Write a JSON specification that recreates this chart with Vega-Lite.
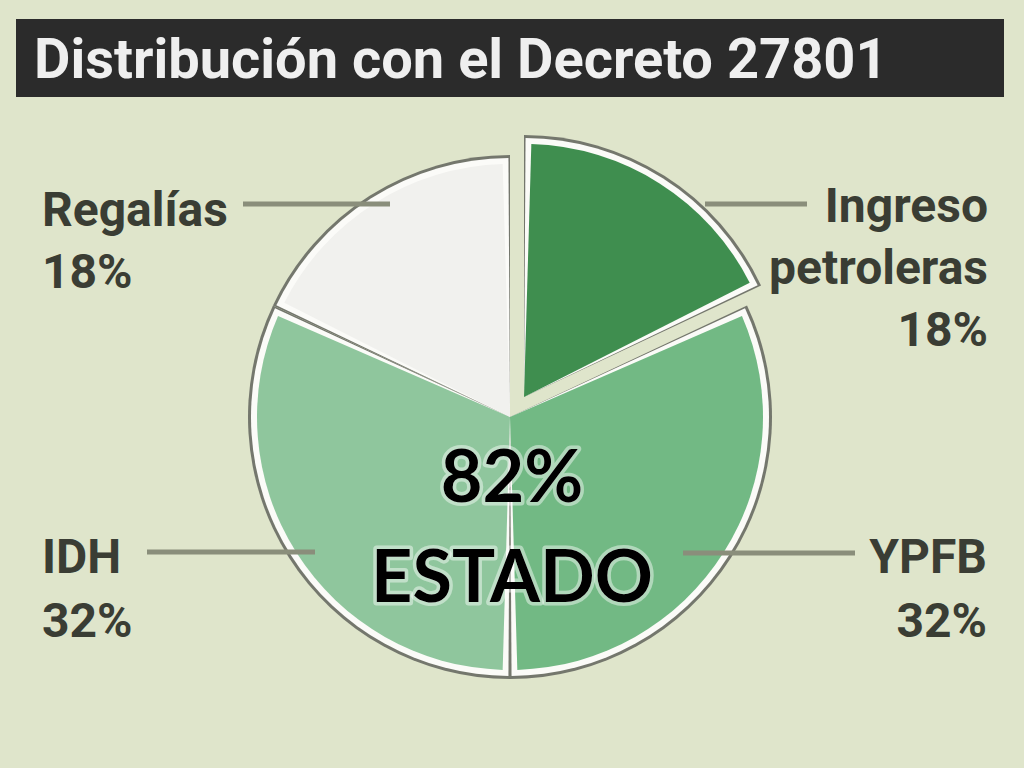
{
  "$schema": "https://vega.github.io/schema/vega-lite/v6.json",
  "width": 1024,
  "height": 768,
  "autosize": {"type": "fit", "contains": "padding"},
  "padding": 0,
  "background": "#dfe5cb",
  "config": {"view": {"stroke": null}},
  "data": {"values": [
    {"fuente": "Ingreso petroleras", "pct": 18, "orden": 1},
    {"fuente": "YPFB", "pct": 32, "orden": 2},
    {"fuente": "IDH", "pct": 32, "orden": 3},
    {"fuente": "Regalías", "pct": 18, "orden": 4}
  ]},
  "layer": [
    {
      "data": {"values": [{"titulo": "Distribución con el Decreto 27801"}]},
      "mark": {"type": "rect", "color": "#2b2b2b"},
      "encoding": {
        "x": {"datum": 16, "type": "quantitative", "scale": {"domain": [0, 1024]}, "axis": null},
        "x2": {"datum": 1004},
        "y": {"datum": 19, "type": "quantitative", "scale": {"domain": [0, 768], "reverse": true}, "axis": null},
        "y2": {"datum": 97}
      }
    },
    {
      "data": {"values": [{"titulo": "Distribución con el Decreto 27801"}]},
      "mark": {"type": "text", "align": "left", "baseline": "alphabetic", "font": "Roboto", "fontWeight": "bold", "fontSize": 56, "color": "#efefef"},
      "encoding": {
        "x": {"datum": 34, "type": "quantitative", "scale": {"domain": [0, 1024]}, "axis": null},
        "y": {"datum": 78, "type": "quantitative", "scale": {"domain": [0, 768], "reverse": true}, "axis": null},
        "text": {"field": "titulo", "type": "nominal"}
      }
    },
    {
      "mark": {"type": "arc", "outerRadius": 262, "fill": "#74776d"},
      "encoding": {
        "theta": {"field": "pct", "type": "quantitative", "stack": true},
        "order": {"field": "orden", "type": "quantitative"},
        "detail": {"field": "fuente", "type": "nominal"},
        "x": {"datum": 510, "type": "quantitative", "scale": {"domain": [0, 1024]}, "axis": null},
        "y": {"datum": 417, "type": "quantitative", "scale": {"domain": [0, 768], "reverse": true}, "axis": null},
        "opacity": {"condition": {"test": "datum.fuente === 'Ingreso petroleras'", "value": 0}, "value": 1}
      }
    },
    {
      "mark": {"type": "arc", "outerRadius": 259, "padAngle": 0.012, "fill": "#fbfbf8"},
      "encoding": {
        "theta": {"field": "pct", "type": "quantitative", "stack": true},
        "order": {"field": "orden", "type": "quantitative"},
        "detail": {"field": "fuente", "type": "nominal"},
        "x": {"datum": 510, "type": "quantitative", "scale": {"domain": [0, 1024]}, "axis": null},
        "y": {"datum": 417, "type": "quantitative", "scale": {"domain": [0, 768], "reverse": true}, "axis": null},
        "opacity": {"condition": {"test": "datum.fuente === 'Ingreso petroleras'", "value": 0}, "value": 1}
      }
    },
    {
      "mark": {"type": "arc", "outerRadius": 253, "padAngle": 0.058},
      "encoding": {
        "theta": {"field": "pct", "type": "quantitative", "stack": true},
        "order": {"field": "orden", "type": "quantitative"},
        "color": {"field": "fuente", "type": "nominal", "legend": null,
          "scale": {"domain": ["Ingreso petroleras", "YPFB", "IDH", "Regalías"], "range": ["#3f8e4f", "#72b984", "#8fc69d", "#f1f1ee"]}},
        "x": {"datum": 510, "type": "quantitative", "scale": {"domain": [0, 1024]}, "axis": null},
        "y": {"datum": 417, "type": "quantitative", "scale": {"domain": [0, 768], "reverse": true}, "axis": null},
        "opacity": {"condition": {"test": "datum.fuente === 'Ingreso petroleras'", "value": 0}, "value": 1}
      }
    },
    {
      "mark": {"type": "arc", "outerRadius": 262, "fill": "#74776d", "xOffset": 14, "yOffset": -20},
      "encoding": {
        "theta": {"field": "pct", "type": "quantitative", "stack": true},
        "order": {"field": "orden", "type": "quantitative"},
        "detail": {"field": "fuente", "type": "nominal"},
        "x": {"datum": 510, "type": "quantitative", "scale": {"domain": [0, 1024]}, "axis": null},
        "y": {"datum": 417, "type": "quantitative", "scale": {"domain": [0, 768], "reverse": true}, "axis": null},
        "opacity": {"condition": {"test": "datum.fuente === 'Ingreso petroleras'", "value": 1}, "value": 0}
      }
    },
    {
      "mark": {"type": "arc", "outerRadius": 259, "padAngle": 0.012, "fill": "#fbfbf8", "xOffset": 14, "yOffset": -20},
      "encoding": {
        "theta": {"field": "pct", "type": "quantitative", "stack": true},
        "order": {"field": "orden", "type": "quantitative"},
        "detail": {"field": "fuente", "type": "nominal"},
        "x": {"datum": 510, "type": "quantitative", "scale": {"domain": [0, 1024]}, "axis": null},
        "y": {"datum": 417, "type": "quantitative", "scale": {"domain": [0, 768], "reverse": true}, "axis": null},
        "opacity": {"condition": {"test": "datum.fuente === 'Ingreso petroleras'", "value": 1}, "value": 0}
      }
    },
    {
      "mark": {"type": "arc", "outerRadius": 253, "padAngle": 0.058, "xOffset": 14, "yOffset": -20},
      "encoding": {
        "theta": {"field": "pct", "type": "quantitative", "stack": true},
        "order": {"field": "orden", "type": "quantitative"},
        "color": {"field": "fuente", "type": "nominal", "legend": null,
          "scale": {"domain": ["Ingreso petroleras", "YPFB", "IDH", "Regalías"], "range": ["#3f8e4f", "#72b984", "#8fc69d", "#f1f1ee"]}},
        "x": {"datum": 510, "type": "quantitative", "scale": {"domain": [0, 1024]}, "axis": null},
        "y": {"datum": 417, "type": "quantitative", "scale": {"domain": [0, 768], "reverse": true}, "axis": null},
        "opacity": {"condition": {"test": "datum.fuente === 'Ingreso petroleras'", "value": 1}, "value": 0}
      }
    },
    {
      "transform": [{"filter": "datum.fuente === 'Regalías'"}],
      "mark": {"type": "rule", "color": "#8a8e7b", "strokeWidth": 5},
      "encoding": {
        "x": {"datum": 243, "type": "quantitative", "scale": {"domain": [0, 1024]}, "axis": null},
        "x2": {"datum": 390},
        "y": {"datum": 204, "type": "quantitative", "scale": {"domain": [0, 768], "reverse": true}, "axis": null}
      }
    },
    {
      "transform": [{"filter": "datum.fuente === 'Ingreso petroleras'"}],
      "mark": {"type": "rule", "color": "#8a8e7b", "strokeWidth": 5},
      "encoding": {
        "x": {"datum": 705, "type": "quantitative", "scale": {"domain": [0, 1024]}, "axis": null},
        "x2": {"datum": 807},
        "y": {"datum": 204, "type": "quantitative", "scale": {"domain": [0, 768], "reverse": true}, "axis": null}
      }
    },
    {
      "transform": [{"filter": "datum.fuente === 'IDH'"}],
      "mark": {"type": "rule", "color": "#8a8e7b", "strokeWidth": 5},
      "encoding": {
        "x": {"datum": 147, "type": "quantitative", "scale": {"domain": [0, 1024]}, "axis": null},
        "x2": {"datum": 315},
        "y": {"datum": 552, "type": "quantitative", "scale": {"domain": [0, 768], "reverse": true}, "axis": null}
      }
    },
    {
      "transform": [{"filter": "datum.fuente === 'YPFB'"}],
      "mark": {"type": "rule", "color": "#8a8e7b", "strokeWidth": 5},
      "encoding": {
        "x": {"datum": 683, "type": "quantitative", "scale": {"domain": [0, 1024]}, "axis": null},
        "x2": {"datum": 855},
        "y": {"datum": 553, "type": "quantitative", "scale": {"domain": [0, 768], "reverse": true}, "axis": null}
      }
    },
    {
      "transform": [{"filter": "datum.fuente === 'Regalías'"}, {"calculate": "split(datum.fuente + ' ' + datum.pct + '%', ' ')", "as": "etiqueta"}],
      "mark": {"type": "text", "align": "left", "baseline": "alphabetic", "font": "Roboto", "fontWeight": "bold", "fontSize": 48, "lineHeight": 62, "color": "#3a3d34"},
      "encoding": {
        "x": {"datum": 42, "type": "quantitative", "scale": {"domain": [0, 1024]}, "axis": null},
        "y": {"datum": 226, "type": "quantitative", "scale": {"domain": [0, 768], "reverse": true}, "axis": null},
        "text": {"field": "etiqueta", "type": "nominal"}
      }
    },
    {
      "transform": [{"filter": "datum.fuente === 'Ingreso petroleras'"}, {"calculate": "split(datum.fuente + ' ' + datum.pct + '%', ' ')", "as": "etiqueta"}],
      "mark": {"type": "text", "align": "right", "baseline": "alphabetic", "font": "Roboto", "fontWeight": "bold", "fontSize": 48, "lineHeight": 62, "color": "#3a3d34"},
      "encoding": {
        "x": {"datum": 988, "type": "quantitative", "scale": {"domain": [0, 1024]}, "axis": null},
        "y": {"datum": 222, "type": "quantitative", "scale": {"domain": [0, 768], "reverse": true}, "axis": null},
        "text": {"field": "etiqueta", "type": "nominal"}
      }
    },
    {
      "transform": [{"filter": "datum.fuente === 'IDH'"}, {"calculate": "split(datum.fuente + ' ' + datum.pct + '%', ' ')", "as": "etiqueta"}],
      "mark": {"type": "text", "align": "left", "baseline": "alphabetic", "font": "Roboto", "fontWeight": "bold", "fontSize": 48, "lineHeight": 64, "color": "#3a3d34"},
      "encoding": {
        "x": {"datum": 42, "type": "quantitative", "scale": {"domain": [0, 1024]}, "axis": null},
        "y": {"datum": 573, "type": "quantitative", "scale": {"domain": [0, 768], "reverse": true}, "axis": null},
        "text": {"field": "etiqueta", "type": "nominal"}
      }
    },
    {
      "transform": [{"filter": "datum.fuente === 'YPFB'"}, {"calculate": "split(datum.fuente + ' ' + datum.pct + '%', ' ')", "as": "etiqueta"}],
      "mark": {"type": "text", "align": "right", "baseline": "alphabetic", "font": "Roboto", "fontWeight": "bold", "fontSize": 48, "lineHeight": 64, "color": "#3a3d34"},
      "encoding": {
        "x": {"datum": 987, "type": "quantitative", "scale": {"domain": [0, 1024]}, "axis": null},
        "y": {"datum": 573, "type": "quantitative", "scale": {"domain": [0, 768], "reverse": true}, "axis": null},
        "text": {"field": "etiqueta", "type": "nominal"}
      }
    },
    {
      "transform": [
        {"filter": "datum.fuente !== 'Ingreso petroleras'"},
        {"aggregate": [{"op": "sum", "field": "pct", "as": "total"}]},
        {"calculate": "[datum.total + '%', 'ESTADO']", "as": "texto"}
      ],
      "mark": {"type": "text", "align": "center", "baseline": "alphabetic", "font": "Lato", "fontWeight": "bold", "fontSize": 72, "lineHeight": 100, "color": "#ffffff", "stroke": "#ffffff", "strokeWidth": 7, "strokeOpacity": 0.45, "strokeJoin": "round"},
      "encoding": {
        "x": {"datum": 512, "type": "quantitative", "scale": {"domain": [0, 1024]}, "axis": null},
        "y": {"datum": 502, "type": "quantitative", "scale": {"domain": [0, 768], "reverse": true}, "axis": null},
        "text": {"field": "texto", "type": "nominal"}
      }
    },
    {
      "transform": [
        {"filter": "datum.fuente !== 'Ingreso petroleras'"},
        {"aggregate": [{"op": "sum", "field": "pct", "as": "total"}]},
        {"calculate": "[datum.total + '%', 'ESTADO']", "as": "texto"}
      ],
      "mark": {"type": "text", "align": "center", "baseline": "alphabetic", "font": "Lato", "fontWeight": "bold", "fontSize": 72, "lineHeight": 100, "color": "#000000"},
      "encoding": {
        "x": {"datum": 512, "type": "quantitative", "scale": {"domain": [0, 1024]}, "axis": null},
        "y": {"datum": 502, "type": "quantitative", "scale": {"domain": [0, 768], "reverse": true}, "axis": null},
        "text": {"field": "texto", "type": "nominal"}
      }
    }
  ]
}
